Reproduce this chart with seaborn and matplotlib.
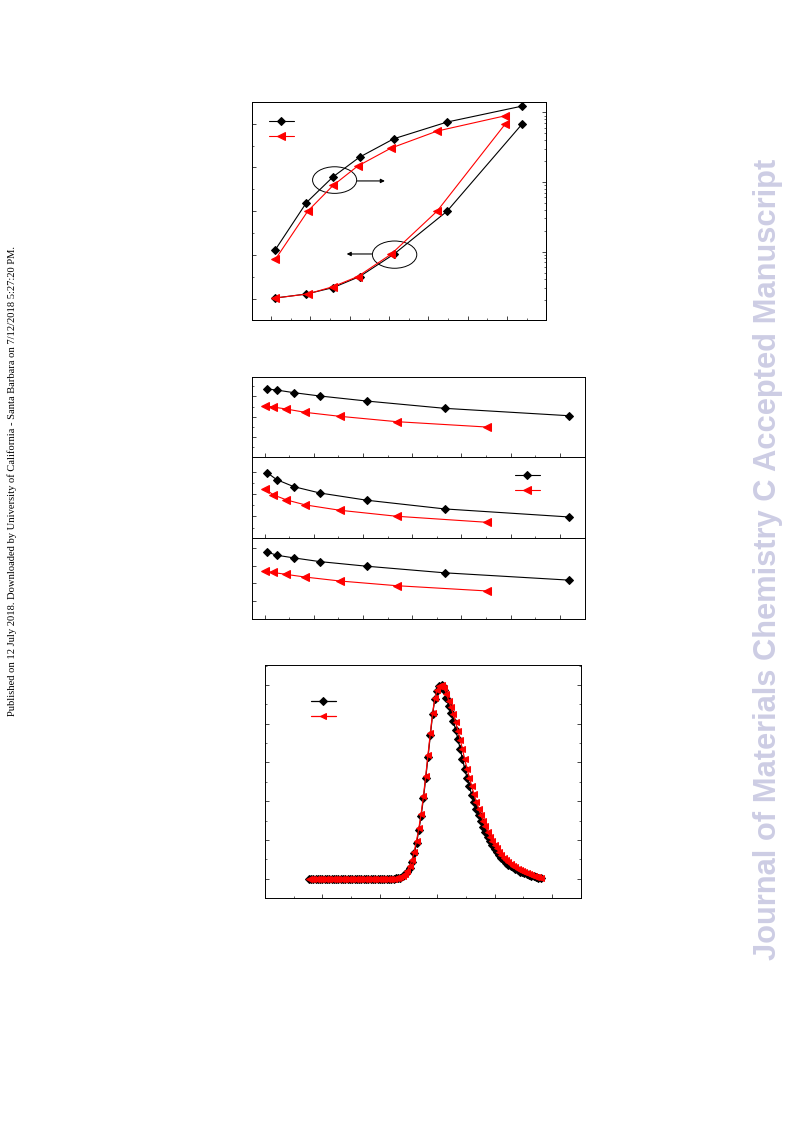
import matplotlib
matplotlib.use("Agg")
import matplotlib.pyplot as plt
import seaborn as sns
from matplotlib.patches import Ellipse
from matplotlib.ticker import FixedLocator, MultipleLocator, LogLocator, NullFormatter

# ---------------- data ----------------
# top panel: two pairs of curves, lower pair on left (linear) axis, upper pair on right (log) axis
top_x_black = [2.2, 18.0, 31.5, 45.0, 62.4, 89.5, 127.8]
top_x_red = [2.2, 18.6, 31.5, 44.0, 61.0, 84.4, 119.2]
left_black = [0.15, 1.07, 2.52, 5.04, 10.15, 20.0, 40.0]
left_red = [0.15, 1.07, 2.75, 5.04, 10.15, 20.0, 40.0]
right_black = [10.7, 50.7, 118.6, 227.5, 417.8, 726.1, 1233.0]
right_red = [7.76, 38.0, 89.1, 169.0, 306.9, 538.3, 895.4]

# middle panel: three stacked sub-panels
mid_x_black = [0.095, 0.488, 1.18, 2.24, 4.15, 7.31, 12.35]
mid_x_red = [0.027, 0.339, 0.88, 1.65, 3.05, 5.36, 9.02]
p1_black = [5.74, 5.64, 5.38, 5.05, 4.55, 3.83, 3.10]
p1_red = [4.06, 3.96, 3.76, 3.43, 3.04, 2.51, 1.98]
p2_black = [4.94, 4.31, 3.68, 3.11, 2.46, 1.68, 0.96]
p2_red = [3.47, 2.96, 2.49, 2.04, 1.56, 1.02, 0.48]
p3_black = [2.77, 2.59, 2.44, 2.23, 1.97, 1.60, 1.19]
p3_red = [1.68, 1.62, 1.51, 1.36, 1.14, 0.875, 0.58]

# bottom panel: normalised spectra
spec_x = [276, 280, 284, 288, 292, 296, 300, 304, 308, 312,
          316, 320, 324, 328, 332, 336, 340, 344, 348, 352,
          356, 360, 364, 368, 372, 376, 380, 384, 388, 392,
          396, 400, 404, 408, 412, 416, 420, 424, 428, 432,
          436, 440, 444, 448, 452, 456, 460, 464, 468, 472,
          476, 480, 484, 488, 492, 496, 500, 504, 508, 512,
          516, 520, 524, 528, 532, 536, 540, 544, 548, 552,
          556, 560, 564, 568, 572, 576, 580, 584, 588, 592,
          596, 600, 604, 608, 612, 616, 620, 624, 628, 632,
          636, 640, 644, 648, 652, 656, 660, 664, 668, 672,
          676, 680]
spec_black = [0, 0, 0, 0, 0, 0, 0, 0, 0, 0,
              0, 0, 0, 0, 0, 0, 0, 0, 0, 0,
              0, 0, 0, 0, 0, 0, 0, 0, 0, 0,
              0, 0, 0, 0, 0, 0, 0, 0, 0.001, 0.003,
              0.006, 0.012, 0.022, 0.035, 0.055, 0.085, 0.13, 0.185, 0.25, 0.325,
              0.415, 0.52, 0.63, 0.74, 0.85, 0.93, 0.97, 0.993, 1.0, 0.975,
              0.935, 0.89, 0.855, 0.815, 0.77, 0.722, 0.672, 0.618, 0.568, 0.521,
              0.476, 0.434, 0.396, 0.36, 0.328, 0.297, 0.268, 0.242, 0.216, 0.192,
              0.172, 0.154, 0.138, 0.123, 0.108, 0.094, 0.081, 0.073, 0.065, 0.058,
              0.051, 0.044, 0.037, 0.032, 0.027, 0.023, 0.019, 0.015, 0.012, 0.009,
              0.006, 0.004]
spec_red = [0, 0, 0, 0, 0, 0, 0, 0, 0, 0,
            0, 0, 0, 0, 0, 0, 0, 0, 0, 0,
            0, 0, 0, 0, 0, 0, 0, 0, 0, 0,
            0, 0, 0, 0, 0, 0, 0, 0, 0.002, 0.004,
            0.008, 0.015, 0.026, 0.042, 0.065, 0.095, 0.14, 0.195, 0.26, 0.335,
            0.425, 0.53, 0.64, 0.75, 0.855, 0.935, 0.975, 0.996, 1.0, 0.985,
            0.955, 0.92, 0.885, 0.85, 0.81, 0.765, 0.718, 0.668, 0.616, 0.567,
            0.522, 0.478, 0.436, 0.398, 0.362, 0.33, 0.299, 0.27, 0.243, 0.217,
            0.194, 0.174, 0.156, 0.14, 0.124, 0.109, 0.096, 0.085, 0.076, 0.067,
            0.059, 0.052, 0.045, 0.039, 0.033, 0.028, 0.023, 0.019, 0.015, 0.011,
            0.008, 0.005]

page_note = ("Published on 12 July 2018. Downloaded by University of California - "
             "Santa Barbara on 7/12/2018 5:27:20 PM.")
watermark = "Journal of Materials Chemistry C Accepted Manuscript"

# ---------------- style ----------------
sns.set_style("ticks")
plt.rcParams.update({
    "xtick.direction": "in", "ytick.direction": "in",
    "xtick.major.size": 3, "ytick.major.size": 3,
    "xtick.minor.size": 1.6, "ytick.minor.size": 1.6,
    "xtick.major.width": 0.6, "ytick.major.width": 0.6,
    "xtick.minor.width": 0.5, "ytick.minor.width": 0.5,
    "axes.linewidth": 0.7, "axes.edgecolor": "black",
})

fig = plt.figure(figsize=(7.93, 11.21), dpi=100)

black_kw = dict(color="black", marker="D", markersize=4.4, markeredgecolor="black",
                linewidth=0.8)
red_kw = dict(color="red", marker="<", markersize=5.4, markeredgecolor="red",
              linewidth=0.8)


def blank_labels(ax):
    ax.tick_params(which="both", labelbottom=False, labelleft=False,
                   labelright=False, labeltop=False)


def empty_legend(ax, x0, yc, hl=2.2):
    h = ax.get_lines()
    ax.legend(h[:2], ["", ""], loc="center left", bbox_to_anchor=(x0, yc),
              frameon=False, fontsize=8, handlelength=hl, handletextpad=0,
              borderpad=0, borderaxespad=0, labelspacing=0.45)


# ---------------- top panel ----------------
ax = fig.add_axes([0.3178, 0.7145, 0.3707, 0.1945])
sns.lineplot(x=top_x_black, y=left_black, ax=ax, **black_kw)
sns.lineplot(x=top_x_red, y=left_red, ax=ax, **red_kw)
ax.set_xlim(-9.7, 139.8)
ax.set_ylim(-4.89, 44.96)
ax.xaxis.set_major_locator(MultipleLocator(20))
ax.xaxis.set_minor_locator(MultipleLocator(10))
ax.yaxis.set_major_locator(MultipleLocator(10))
ax.yaxis.set_minor_locator(MultipleLocator(5))
blank_labels(ax)

ax2 = ax.twinx()
sns.lineplot(x=top_x_black, y=right_black, ax=ax2, **black_kw)
sns.lineplot(x=top_x_red, y=right_red, ax=ax2, **red_kw)
ax2.set_yscale("log")
ax2.set_ylim(1.04, 1409)
ax2.yaxis.set_major_locator(LogLocator(base=10))
ax2.yaxis.set_minor_locator(LogLocator(base=10, subs=range(2, 10)))
ax2.yaxis.set_minor_formatter(NullFormatter())
ax2.tick_params(which="both", direction="in")
blank_labels(ax2)
for a in (ax, ax2):
    a.set_xlabel("")
    a.set_ylabel("")

ax.add_patch(Ellipse((0.281, 0.642), 0.150, 0.122, transform=ax.transAxes,
                     fill=False, edgecolor="black", linewidth=0.7))
ax.add_patch(Ellipse((0.485, 0.300), 0.151, 0.125, transform=ax.transAxes,
                     fill=False, edgecolor="black", linewidth=0.7))
arrow = dict(arrowstyle="-|>", color="black", lw=0.8, mutation_scale=6,
             shrinkA=0, shrinkB=0)
ax.annotate("", xy=(0.452, 0.638), xytext=(0.358, 0.638),
            xycoords="axes fraction", arrowprops=arrow)
ax.annotate("", xy=(0.322, 0.303), xytext=(0.407, 0.303),
            xycoords="axes fraction", arrowprops=arrow)
empty_legend(ax, 0.058, 0.876)

# ---------------- middle panel ----------------
mid_rows = [
    (0.5923, 0.0714, p1_black, p1_red, (-0.99, 6.93), [1, 3, 5], [0, 2, 4, 6]),
    (0.5201, 0.0723, p2_black, p2_red, (-0.93, 6.35), [1, 3, 5], [0, 2, 4]),
    (0.4478, 0.0723, p3_black, p3_red, (-1.0, 3.56), [0, 1, 2, 3], []),
]
mid_axes = []
for y0, h, yb, yr, ylim, majors, minors in mid_rows:
    a = fig.add_axes([0.3178, y0, 0.4199, h])
    sns.lineplot(x=mid_x_black, y=yb, ax=a, **black_kw)
    sns.lineplot(x=mid_x_red, y=yr, ax=a, **red_kw)
    a.set_xlim(-0.515, 13.02)
    a.set_ylim(*ylim)
    a.xaxis.set_major_locator(MultipleLocator(2))
    a.xaxis.set_minor_locator(MultipleLocator(1))
    a.yaxis.set_major_locator(FixedLocator(majors))
    a.yaxis.set_minor_locator(FixedLocator(minors))
    blank_labels(a)
    mid_axes.append(a)
empty_legend(mid_axes[1], 0.79, 0.679)

# ---------------- bottom panel ----------------
axb = fig.add_axes([0.3342, 0.1989, 0.3985, 0.2078])
sns.lineplot(x=spec_x, y=spec_black, ax=axb, color="black", marker="D",
             markersize=3.6, markeredgecolor="black", linewidth=0.9)
sns.lineplot(x=spec_x, y=spec_red, ax=axb, color="red", marker="<",
             markersize=5.0, markeredgecolor="red", linewidth=0.9)
axb.set_xlim(200, 750.6)
axb.set_ylim(-0.1, 1.103)
axb.xaxis.set_major_locator(MultipleLocator(100))
axb.xaxis.set_minor_locator(FixedLocator([250, 350, 450, 550, 650]))
axb.yaxis.set_major_locator(MultipleLocator(0.2))
axb.yaxis.set_minor_locator(MultipleLocator(0.1))
axb.tick_params(which="both", right=True)
blank_labels(axb)
empty_legend(axb, 0.146, 0.809)

# ---------------- page decorations ----------------
fig.text(0.0151, 0.5705, page_note, rotation=90, ha="center", va="center",
         family="Liberation Serif", fontsize=7.6, color="black")
fig.text(0.9685, 0.5013, watermark, rotation=90, ha="center", va="center",
         family="Liberation Sans", fontweight="bold", fontsize=22.2,
         color="#cdcde4")

fig.savefig("out.png", dpi=100)
